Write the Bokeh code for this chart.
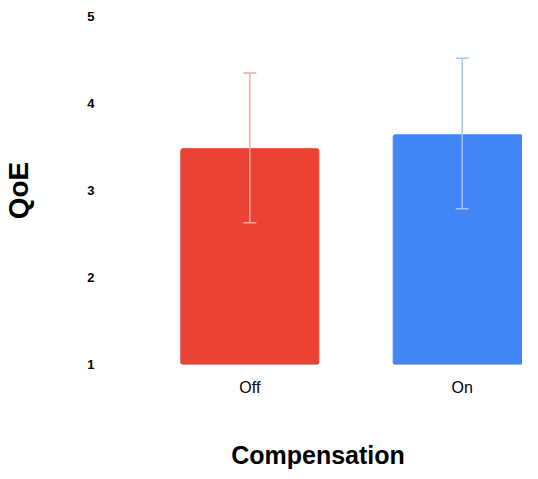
from bokeh.plotting import figure
from bokeh.models import ColumnDataSource, Range1d, FixedTicker, Whisker, TeeHead
from bokeh.embed import file_html
from bokeh.resources import INLINE

categories = ["Off", "On"]
means = [3.48, 3.64]
lower = [2.63, 2.79]
upper = [4.35, 4.52]
bar_colors = ["#EA4335", "#4285F4"]
err_colors = ["#F5A7A1", "#A5C4FA"]
y_ticks = [1, 2, 3, 4, 5]

xs = list(range(len(categories)))
src = ColumnDataSource(dict(x=xs, top=means, color=bar_colors))

p = figure(width=522, height=471, output_backend="svg", toolbar_location=None,
           x_range=Range1d(-0.642, 1.284), y_range=Range1d(1, 5),
           min_border_left=102, min_border_right=0, min_border_top=16,
           min_border_bottom=107)
p.outline_line_color = None
p.xgrid.visible = False
p.ygrid.visible = False

p.vbar(x="x", top="top", bottom=1, width=0.65, fill_color="color",
       line_color="color", source=src, border_radius=2)

for i in xs:
    s = ColumnDataSource(dict(x=[xs[i]], lower=[lower[i]], upper=[upper[i]]))
    w = Whisker(base="x", lower="lower", upper="upper", source=s, level="overlay",
                line_color=err_colors[i], line_width=1.5,
                upper_head=TeeHead(size=13, line_color=err_colors[i], line_width=1.5),
                lower_head=TeeHead(size=13, line_color=err_colors[i], line_width=1.5))
    p.add_layout(w)

for ax in (p.xaxis[0], p.yaxis[0]):
    ax.axis_line_color = None
    ax.major_tick_line_color = None
    ax.minor_tick_line_color = None

p.xaxis.ticker = FixedTicker(ticks=xs)
p.xaxis.major_label_overrides = {i: c for i, c in zip(xs, categories)}
p.xaxis.major_label_text_font = "Liberation Sans"
p.xaxis.major_label_text_font_size = "16px"
p.xaxis.major_label_text_color = "#000000"
p.xaxis.major_label_standoff = 8
p.xaxis.axis_label = "Compensation"
p.xaxis.axis_label_text_font = "Liberation Sans"
p.xaxis.axis_label_text_font_style = "bold"
p.xaxis.axis_label_text_font_size = "25px"
p.xaxis.axis_label_text_color = "#000000"
p.xaxis.axis_label_standoff = 42

p.yaxis.ticker = FixedTicker(ticks=y_ticks)
p.yaxis.major_label_text_font = "Liberation Sans"
p.yaxis.major_label_text_font_style = "bold"
p.yaxis.major_label_text_font_size = "13px"
p.yaxis.major_label_text_color = "#000000"
p.yaxis.major_label_standoff = 13
p.yaxis.axis_label = "QoE"
p.yaxis.axis_label_text_font = "Liberation Sans"
p.yaxis.axis_label_text_font_style = "bold"
p.yaxis.axis_label_text_font_size = "28px"
p.yaxis.axis_label_text_color = "#000000"
p.yaxis.axis_label_standoff = 50

open("out.html", "w").write(file_html(p, INLINE))
